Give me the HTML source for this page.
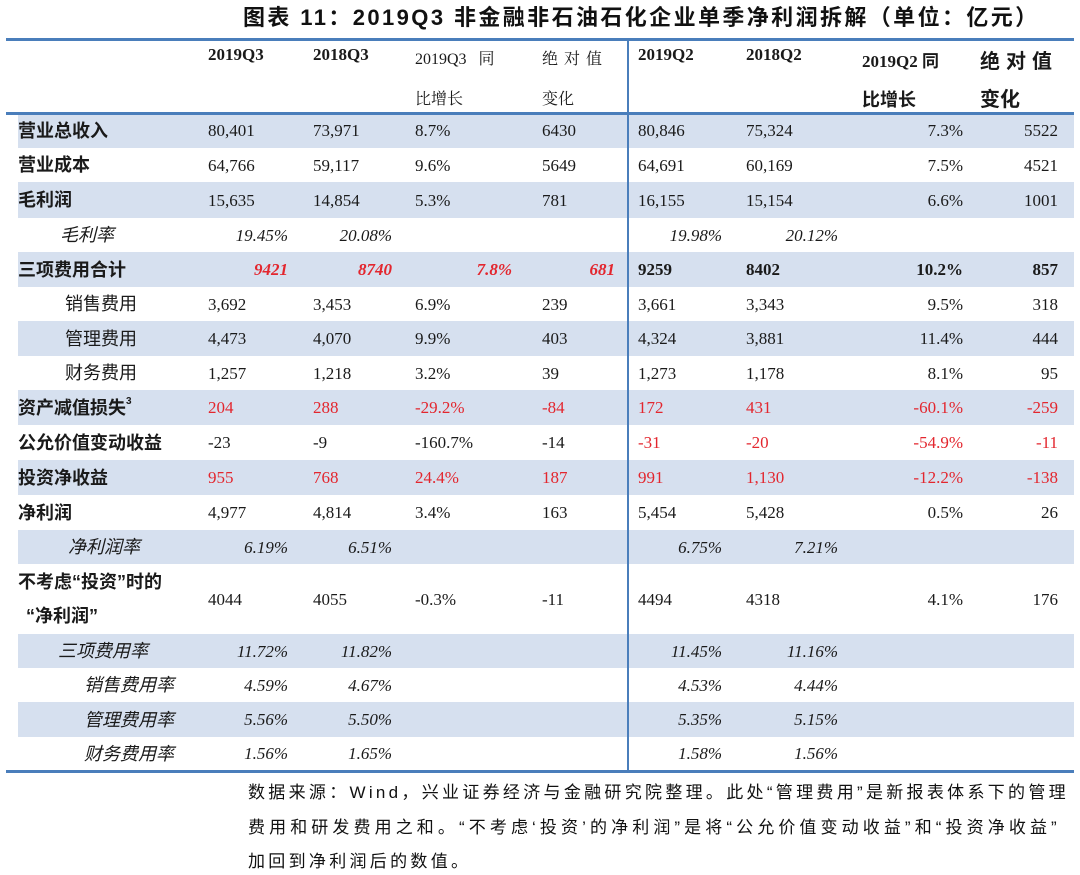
<!DOCTYPE html>
<html><head><meta charset="utf-8">
<style>
html,body{margin:0;padding:0;background:#fff;}
#root{position:relative;width:1080px;height:875px;overflow:hidden;background:#fff;font-family:"Liberation Serif","Noto Serif CJK SC",serif;color:#1a1a1a;}
.a{position:absolute;white-space:nowrap;line-height:1;}
.title{font-family:"Liberation Sans","Noto Sans CJK SC",sans-serif;font-weight:bold;font-size:22px;letter-spacing:2.4px;left:243px;top:7px;color:#111;}
.hline{position:absolute;left:6px;width:1068px;background:#4a7ebb;}
.vline{position:absolute;left:627px;width:2px;top:40px;height:731px;background:#4a7ebb;}
.shade{position:absolute;left:18px;width:1056px;background:#d6e0ef;}
.lab{font-family:"Liberation Sans","Noto Sans CJK SC",sans-serif;font-size:18px;}
.b{font-weight:bold;}
.i{font-style:italic;}
.num{font-size:17px;}
.hd{font-size:16px;}
.red{color:#e3262e;}
.foot{font-family:"Liberation Sans","Noto Sans CJK SC",sans-serif;font-size:17px;letter-spacing:3.3px;left:248px;color:#111;}
sup{font-size:10px;vertical-align:top;position:relative;top:-2px;}
</style></head>
<body>
<div id="root">
<div class="a title">图表 11：2019Q3 非金融非石油石化企业单季净利润拆解（单位：亿元）</div>
<div class="hline" style="top:38px;height:3px"></div>
<div class="hline" style="top:112px;height:3px"></div>
<div class="hline" style="top:770px;height:3px"></div>

<div class="a b num" style="left:208px;top:46px">2019Q3</div>
<div class="a b num" style="left:313px;top:46px">2018Q3</div>
<div class="a hd" style="left:415px;top:52px">2019Q3&nbsp;&nbsp;&nbsp;同</div>
<div class="a hd" style="left:415px;top:92px">比增长</div>
<div class="a hd" style="left:542px;top:52px;letter-spacing:6px">绝对值</div>
<div class="a hd" style="left:542px;top:92px">变化</div>
<div class="a b num" style="left:638px;top:46px">2019Q2</div>
<div class="a b num" style="left:746px;top:46px">2018Q2</div>
<div class="a b" style="left:862px;top:53px;font-size:17px;font-family:'Liberation Serif','Noto Sans CJK SC',serif">2019Q2 同</div>
<div class="a b lab" style="left:862px;top:91px">比增长</div>
<div class="a b lab" style="left:980px;top:52px;font-size:20px;letter-spacing:6px">绝对值</div>
<div class="a b lab" style="left:980px;top:90px;font-size:20px">变化</div>
<div class="vline"></div>

<div class="a foot" style="top:784px">数据来源：Wind，兴业证券经济与金融研究院整理。此处“管理费用”是新报表体系下的管理</div>
<div class="a foot" style="top:819px;letter-spacing:4.1px">费用和研发费用之和。“不考虑‘投资’的净利润”是将“公允价值变动收益”和“投资净收益”</div>
<div class="a foot" style="top:853px">加回到净利润后的数值。</div>
</div>
<script>
const rowLabels=["营业总收入","营业成本","毛利润","毛利率","三项费用合计","销售费用","管理费用","财务费用","资产减值损失","公允价值变动收益","投资净收益","净利润","净利润率","不考虑“投资”时的|“净利润”","三项费用率","销售费用率","管理费用率","财务费用率"];
const q3Now=["80,401","64,766","15,635","19.45%","9421","3,692","4,473","1,257","204","-23","955","4,977","6.19%","4044","11.72%","4.59%","5.56%","1.56%"];
const q3Prev=["73,971","59,117","14,854","20.08%","8740","3,453","4,070","1,218","288","-9","768","4,814","6.51%","4055","11.82%","4.67%","5.50%","1.65%"];
const q3Yoy=["8.7%","9.6%","5.3%","","7.8%","6.9%","9.9%","3.2%","-29.2%","-160.7%","24.4%","3.4%","","-0.3%","","","",""];
const q3Abs=["6430","5649","781","","681","239","403","39","-84","-14","187","163","","-11","","","",""];
const q2Now=["80,846","64,691","16,155","19.98%","9259","3,661","4,324","1,273","172","-31","991","5,454","6.75%","4494","11.45%","4.53%","5.35%","1.58%"];
const q2Prev=["75,324","60,169","15,154","20.12%","8402","3,343","3,881","1,178","431","-20","1,130","5,428","7.21%","4318","11.16%","4.44%","5.15%","1.56%"];
const q2Yoy=["7.3%","7.5%","6.6%","","10.2%","9.5%","11.4%","8.1%","-60.1%","-54.9%","-12.2%","0.5%","","4.1%","","","",""];
const q2Abs=["5522","4521","1001","","857","318","444","95","-259","-11","-138","26","","176","","","",""];
const rowKind=["bold","bold","bold","rate","total","sub","sub","sub","bold","bold","bold","bold","rate","bold","rate","rate2","rate2","rate2"];
const q3Red=[0,0,0,0,1,0,0,0,1,0,1,0,0,0,0,0,0,0];
const q2Red=[0,0,0,0,0,0,0,0,1,1,1,0,0,0,0,0,0,0];
const rowTop=[113,148,182,218,252,287,321,356,390,425,460,495,530,564,634,668,702,737];
const rowH=[35,34,36,34,35,34,35,34,35,35,35,35,34,70,34,34,35,33];
const shaded=[1,0,1,0,1,0,1,0,1,0,1,0,1,0,1,0,1,0];
const root=document.getElementById('root');
function put(txt,cls,left,right,top,nm){
  const d=document.createElement('div');
  d.className='a '+cls;
  d.textContent=txt;
  d.style.top=top+'px';
  if(right!=null){d.style.right=(1080-right)+'px';}else{d.style.left=left+'px';}
  
  
  root.appendChild(d);
  return d;
}
for(let r=0;r<rowLabels.length;r++){
  const t=rowTop[r],h=rowH[r],k=rowKind[r];
  if(shaded[r]){
    const s=document.createElement('div');
    s.className='shade';s.style.top=t+'px';s.style.height=h+'px';
    
    
    root.insertBefore(s,root.children[1]);
  }
  const ty=t+h/2-9;
  const parts=rowLabels[r].split('|');
  let lx=18,lc='lab b';
  if(k==='sub'){lx=65;lc='lab';}
  if(k==='rate'){lx=(r===3?60:(r===12?68:58));lc='lab i';}
  if(k==='rate2'){lx=84;lc='lab i';}
  if(parts.length>1){
    put(parts[0],lc,lx,null,t+9,'row-label');
    put(parts[1],lc,26,null,t+43,'row-label');
  }else{
    const d=put(parts[0],lc,lx,null,ty,'row-label');
    if(r===8){
      const s=document.createElement('sup');
      s.textContent='3';
      
      
      d.appendChild(s);
    }
  }
  const ny=t+h/2-8.5;
  if(k==='rate'||k==='rate2'){
    put(q3Now[r],'num i',null,288,ny,'cell-2019q3');
    put(q3Prev[r],'num i',null,392,ny,'cell-2018q3');
    put(q2Now[r],'num i',null,722,ny,'cell-2019q2');
    put(q2Prev[r],'num i',null,838,ny,'cell-2018q2');
    continue;
  }
  if(k==='total'){
    put(q3Now[r],'num i b red',null,288,ny,'cell-2019q3');
    put(q3Prev[r],'num i b red',null,392,ny,'cell-2018q3');
    put(q3Yoy[r],'num i b red',null,512,ny,'cell-q3-yoy');
    put(q3Abs[r],'num i b red',null,615,ny,'cell-q3-abs');
    put(q2Now[r],'num b',638,null,ny,'cell-2019q2');
    put(q2Prev[r],'num b',746,null,ny,'cell-2018q2');
    put(q2Yoy[r],'num b',null,963,ny,'cell-q2-yoy');
    put(q2Abs[r],'num b',null,1058,ny,'cell-q2-abs');
    continue;
  }
  const c3=q3Red[r]?'num red':'num', c2=q2Red[r]?'num red':'num';
  put(q3Now[r],c3,208,null,ny,'cell-2019q3');
  put(q3Prev[r],c3,313,null,ny,'cell-2018q3');
  put(q3Yoy[r],c3,415,null,ny,'cell-q3-yoy');
  put(q3Abs[r],c3,542,null,ny,'cell-q3-abs');
  put(q2Now[r],c2,638,null,ny,'cell-2019q2');
  put(q2Prev[r],c2,746,null,ny,'cell-2018q2');
  put(q2Yoy[r],c2,null,963,ny,'cell-q2-yoy');
  put(q2Abs[r],c2,null,1058,ny,'cell-q2-abs');
}
</script>
</body></html>
